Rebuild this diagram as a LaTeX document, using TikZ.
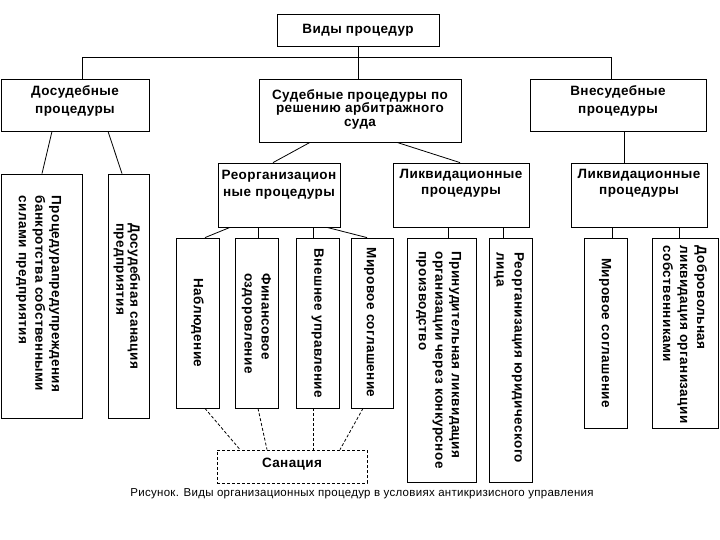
\documentclass[tikz,border=0pt]{standalone}
\usepackage{fontspec}
\setmainfont{Liberation Sans}
\newfontfamily\boxfont{Liberation Sans}[LetterSpace=3]
\newfontfamily\capfont{Liberation Sans}[LetterSpace=2.5]
\tikzset{
  bx/.style={draw, line width=0.8pt, inner sep=0pt},
  dbx/.style={draw, line width=0.8pt, inner sep=0pt, dash pattern=on 3pt off 2pt},
  htxt/.style={inner sep=0pt, align=center, font=\boxfont\bfseries\fontsize{13.5}{#1}\selectfont},
  htxt/.default=17,
  vtxt/.style={inner sep=0pt, align=left, rotate=-90, font=\boxfont\bfseries\fontsize{13.5}{#1}\selectfont},
  vtxt/.default=16.5,
  ln/.style={line width=0.8pt},
  dln/.style={line width=0.8pt, dash pattern=on 3pt off 2pt}
}
\begin{document}
\begin{tikzpicture}[x=1pt,y=-1pt]
\useasboundingbox (0,0) rectangle (720,540);
% level 0/1 boxes
\node[bx, minimum width=162pt, minimum height=32pt] (top) at (358,30) {};
\node[bx, minimum width=148pt, minimum height=52pt] (dos) at (75,105) {};
\node[bx, minimum width=202pt, minimum height=63pt] (sud) at (360,110.5) {};
\node[bx, minimum width=176pt, minimum height=52pt] (vne) at (618,105) {};
\node[htxt] (topT) at (358,30) {Виды процедур};
\node[htxt=18] (dosT) at (75,101) {Досудебные\\процедуры};
\node[htxt=13.5] (sudT) at (360,109) {Судебные процедуры по\\решению арбитражного\\суда};
\node[htxt=18] (vneT) at (618,101) {Внесудебные\\процедуры};
% level 2
\node[bx, minimum width=122pt, minimum height=64pt] (reorg) at (279,195) {};
\node[bx, minimum width=136pt, minimum height=64pt] (liqA) at (461,195) {};
\node[bx, minimum width=136pt, minimum height=64pt] (liqB) at (639,195) {};
\node[htxt=16.5] (reorgT) at (279,185) {Реорганизацион\\ные процедуры};
\node[htxt=16.5] (liqAT) at (461,183.5) {Ликвидационные\\процедуры};
\node[htxt=16.5] (liqBT) at (639,183.5) {Ликвидационные\\процедуры};
% pre-court children
\node[bx, minimum width=81pt, minimum height=244pt] (d1) at (41.5,296) {};
\node[bx, minimum width=41pt, minimum height=244pt] (d2) at (128.5,296) {};
\node[vtxt] (d1T) at (38.5,294) {Процедурапредупреждения\\банкротства собственными\\силами предприятия};
\node[vtxt=14] (d2T) at (127,296) {Досудебная санация\\предприятия};
% reorganisation children
\node[bx, minimum width=43pt, minimum height=170pt] (r1) at (197.5,323) {};
\node[bx, minimum width=43pt, minimum height=170pt] (r2) at (256.5,323) {};
\node[bx, minimum width=43pt, minimum height=170pt] (r3) at (317.5,323) {};
\node[bx, minimum width=42pt, minimum height=170pt] (r4) at (372,323) {};
\node[vtxt] (r1T) at (197.5,323) {Наблюдение};
\node[vtxt=17] (r2T) at (256.5,323.5) {Финансовое\\оздоровление};
\node[vtxt] (r3T) at (317.5,323.5) {Внешнее управление};
\node[vtxt] (r4T) at (370,322.5) {Мировое соглашение};
% sanation
\node[dbx, minimum width=150pt, minimum height=33pt] (san) at (292,466.5) {};
\node[htxt] (sanT) at (292,464) {Санация};
% liquidation A children
\node[bx, minimum width=69pt, minimum height=244pt] (l1) at (441.5,360) {};
\node[bx, minimum width=43pt, minimum height=244pt] (l2) at (510.5,360) {};
\node[vtxt] (l1T) at (438.5,360) {Принудительная ликвидация\\организации через конкурсное\\производство};
\node[vtxt=18] (l2T) at (509,358) {Реорганизация юридического\\лица};
% liquidation B children
\node[bx, minimum width=43pt, minimum height=190pt] (m1) at (605.5,333) {};
\node[bx, minimum width=66pt, minimum height=190pt] (m2) at (685,333) {};
\node[vtxt] (m1T) at (605,333) {Мировое соглашение};
\node[vtxt=17] (m2T) at (685,334.5) {Добровольная\\ликвидация организации\\собственниками};
% caption
\node[inner sep=0pt, font=\capfont\fontsize{11.5}{13}\selectfont] (cap) at (362,494) {Рисунок. Виды организационных процедур в условиях антикризисного управления};
% connectors level 0-1
\coordinate (hl) at (82,57);
\coordinate (hr) at (611,57);
\draw[ln] (dos.north -| hl) -- (hl) -- (hr) -- (vne.north -| hr);
\draw[ln] (top.south) -- (sud.north -| top.south);
% level 1-2
\draw[ln] ([xshift=-50pt]sud.south) -- ([xshift=-6pt]reorg.north);
\draw[ln] ([xshift=37pt]sud.south) -- ([xshift=-1pt]liqA.north);
\draw[ln] ([xshift=6pt]vne.south) -- ([xshift=6pt]vne.south |- liqB.north);
% pre-court
\draw[ln] ([xshift=-23pt]dos.south) -- ([xshift=0.5pt]d1.north);
\draw[ln] ([xshift=33pt]dos.south) -- ([xshift=-6.5pt]d2.north);
% reorganisation
\draw[ln] ([xshift=-49pt]reorg.south) -- ([xshift=7.5pt]r1.north);
\draw[ln] ([xshift=-21pt]reorg.south) -- ([xshift=-21pt]reorg.south |- r2.north);
\draw[ln] ([xshift=34pt]reorg.south) -- ([xshift=34pt]reorg.south |- r3.north);
\draw[ln] ([xshift=48pt]reorg.south) -- ([xshift=-5pt]r4.north);
% liquidation A
\draw[ln] ([xshift=-13pt]liqA.south) -- ([xshift=-13pt]liqA.south |- l1.north);
\draw[ln] ([xshift=42pt]liqA.south) -- ([xshift=42pt]liqA.south |- l2.north);
% liquidation B
\draw[ln] ([xshift=-27pt]liqB.south) -- ([xshift=-27pt]liqB.south |- m1.north);
\draw[ln] ([xshift=40pt]liqB.south) -- ([xshift=40pt]liqB.south |- m2.north);
% dashed to sanation
\draw[dln] ([xshift=7.5pt]r1.south) -- ([xshift=-52pt]san.north);
\draw[dln] ([xshift=1.5pt]r2.south) -- ([xshift=-25pt]san.north);
\draw[dln] ([xshift=-4.5pt]r3.south) -- ([xshift=-4.5pt]r3.south |- san.north);
\draw[dln] ([xshift=-9pt]r4.south) -- ([xshift=48pt]san.north);
\end{tikzpicture}
\end{document}
